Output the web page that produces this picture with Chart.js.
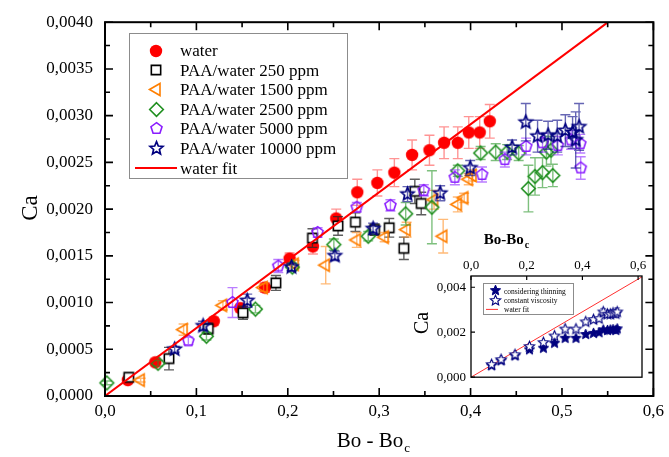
<!DOCTYPE html>
<html>
<head>
<meta charset="utf-8">
<script src="https://cdn.jsdelivr.net/npm/chart.js@4.4.1/dist/chart.umd.min.js"></script>
<style>
body { margin: 0; background: #fff; }
#wrap { position: relative; width: 669px; height: 457px; }
#main { position: absolute; left: 0; top: 0; }
#inset { position: absolute; left: 400px; top: 225px; }
</style>
</head>
<body>
<div id="wrap">
<canvas id="main" width="669" height="457"></canvas>
<canvas id="inset" width="265" height="165"></canvas>
</div>
<script>
const SERIF = '"Liberation Serif", "Times New Roman", serif';

// ---- main plot: axes ----
const xTicks = [0, 0.1, 0.2, 0.3, 0.4, 0.5, 0.6];
const xTickLabels = ['0,0', '0,1', '0,2', '0,3', '0,4', '0,5', '0,6'];
const yTicks = [0, 0.0005, 0.001, 0.0015, 0.002, 0.0025, 0.003, 0.0035, 0.004];
const yTickLabels = ['0,0000', '0,0005', '0,0010', '0,0015', '0,0020', '0,0025', '0,0030', '0,0035', '0,0040'];

// ---- main plot: series ----
const waterX   = [0.025, 0.055, 0.119, 0.148, 0.175, 0.202, 0.2275, 0.253, 0.276, 0.298, 0.3166, 0.336, 0.355, 0.371, 0.386, 0.398, 0.41, 0.421];
const waterY   = [0.00017, 0.00036, 0.0008, 0.00094, 0.00116, 0.00147, 0.0016, 0.0019, 0.00218, 0.00228, 0.00239, 0.00258, 0.00263, 0.00271, 0.00271, 0.00282, 0.00282, 0.00294];
const waterErr = [0.00003, 0.00003, 0.00004, 0.00004, 0.00005, 0.00006, 0.00008, 0.0001, 0.00014, 0.00014, 0.00015, 0.00016, 0.00016, 0.00017, 0.00017, 0.00017, 0.00017, 0.00018];

const p250X   = [0.026, 0.07, 0.113, 0.151, 0.187, 0.227, 0.255, 0.274, 0.295, 0.311, 0.327, 0.339, 0.346];
const p250Y   = [0.0002, 0.0004, 0.00072, 0.00089, 0.00121, 0.00169, 0.00182, 0.00186, 0.00178, 0.0018, 0.00158, 0.00219, 0.00206];
const p250Err = [0.00003, 0.00012, 0.00006, 0.00007, 0.00008, 0.0001, 0.0001, 0.0001, 0.00006, 0.0001, 0.00012, 0.00013, 0.00012];

const p1500X   = [0.039, 0.086, 0.129, 0.1735, 0.2075, 0.2415, 0.2755, 0.306, 0.33, 0.36, 0.37, 0.386, 0.393, 0.398, 0.402];
const p1500Y   = [0.00017, 0.00071, 0.00097, 0.00116, 0.00141, 0.0014, 0.00167, 0.0017, 0.00178, 0.0021, 0.00171, 0.00205, 0.00212, 0.00232, 0.00236];
const p1500Err = [0.00002, 0.00006, 0.00005, 0.00004, 0.00004, 0.0002, 0.00008, 0.00005, 0.00008, 0.0001, 0.00018, 0.00008, 0.00005, 0.00006, 0.00006];

const p2500X   = [0.002, 0.058, 0.111, 0.1646, 0.205, 0.2504, 0.288, 0.329, 0.3577, 0.386, 0.411, 0.4275, 0.44, 0.4526, 0.4633, 0.4705, 0.4787, 0.483, 0.488, 0.49];
const p2500Y   = [0.00014, 0.00035, 0.00064, 0.00093, 0.00138, 0.00162, 0.00171, 0.00195, 0.00202, 0.00241, 0.0026, 0.00261, 0.00261, 0.0026, 0.00222, 0.00235, 0.00239, 0.00261, 0.00263, 0.00236];
const p2500Err = [0.00002, 0.00003, 0.00004, 0.00004, 0.00004, 0.00006, 0.00005, 0.00012, 0.00039, 0.00006, 0.00007, 0.00009, 0.00008, 0.00008, 0.00025, 0.0002, 0.00016, 0.00015, 0.00015, 0.00012];

const p5000X   = [0.0912, 0.1395, 0.1896, 0.2326, 0.2755, 0.3123, 0.3488, 0.3828, 0.4125, 0.4375, 0.4608, 0.4787, 0.4955, 0.51, 0.52, 0.5205];
const p5000Y   = [0.00059, 0.001, 0.00139, 0.00175, 0.00202, 0.00204, 0.0022, 0.00234, 0.00237, 0.00253, 0.00267, 0.00271, 0.00268, 0.00274, 0.0027, 0.00244];
const p5000Err = [0.00004, 0.00016, 0.00007, 0.00005, 0.00005, 0.00006, 0.00006, 0.00008, 0.00008, 0.00008, 0.00009, 0.0001, 0.0001, 0.0001, 0.0001, 0.00012];

const p10000X   = [0.0762, 0.1073, 0.1556, 0.204, 0.2515, 0.2933, 0.331, 0.3667, 0.3996, 0.4454, 0.4604, 0.4733, 0.4848, 0.4948, 0.5037, 0.5116, 0.515, 0.5187];
const p10000Y   = [0.0005, 0.00075, 0.00102, 0.00138, 0.0015, 0.00179, 0.00216, 0.00217, 0.00244, 0.00266, 0.00293, 0.00278, 0.00279, 0.00278, 0.00284, 0.00282, 0.00274, 0.00288];
const p10000Err = [0.00003, 0.00005, 0.00007, 0.00004, 0.00005, 0.00006, 0.00008, 0.00008, 0.00008, 0.00008, 0.0002, 0.00017, 0.00015, 0.00017, 0.00017, 0.00017, 0.0003, 0.00025];

// linear fit of the water data, Ca = k (Bo - Boc)
const fitSlope = 0.00727;
const fitX = [0, 0.55];

// ---- inset: 10000 ppm with and without shear thinning ----
const insetXTicks = [0, 0.2, 0.4, 0.6];
const insetXLabels = ['0,0', '0,2', '0,4', '0,6'];
const insetYTicks = [0, 0.002, 0.004];
const insetYLabels = ['0,000', '0,002', '0,004'];

const thinX   = [0.074, 0.108, 0.158, 0.21, 0.26, 0.30, 0.338, 0.377, 0.412, 0.44, 0.46, 0.475, 0.49, 0.50, 0.51, 0.52, 0.525];
const thinY   = [0.00051, 0.00073, 0.00095, 0.00122, 0.00129, 0.00151, 0.00173, 0.00173, 0.0019, 0.00195, 0.00198, 0.0021, 0.00208, 0.0021, 0.00212, 0.00208, 0.00215];
const thinErr = [0.00002, 0.00003, 0.00004, 0.00004, 0.00004, 0.00005, 0.00005, 0.00005, 0.00006, 0.00006, 0.00006, 0.00008, 0.00008, 0.00008, 0.00008, 0.0001, 0.0001];
const constY   = [0.00056, 0.00078, 0.001, 0.00136, 0.00154, 0.00183, 0.00214, 0.00214, 0.00246, 0.00256, 0.0026, 0.0029, 0.0028, 0.0028, 0.00285, 0.00282, 0.0029];
const constErr = [0.00002, 0.00003, 0.00004, 0.00005, 0.00005, 0.00006, 0.00007, 0.00007, 0.00008, 0.00008, 0.00008, 0.00016, 0.00014, 0.00014, 0.00015, 0.00015, 0.00018];
const insetFitX = [0, 0.614];

const pts = (xs, ys) => xs.map((x, i) => ({ x, y: ys[i] }));

// marker sprites (Chart.js has no pentagon or five-point star)
function marker(shape, r, stroke, fill, lw) {
  const s = Math.ceil(2 * r + lw + 3);
  const c = document.createElement('canvas');
  c.width = c.height = s;
  const g = c.getContext('2d');
  const m = s / 2;
  g.beginPath();
  if (shape === 'circle') {
    g.arc(m, m, r, 0, Math.PI * 2);
  } else {
    let n, a0, inner = 0;
    if (shape === 'square') { n = 4; a0 = Math.PI / 4; }
    if (shape === 'left') { n = 3; a0 = -Math.PI / 2; }
    if (shape === 'diamond') { n = 4; a0 = 0; }
    if (shape === 'pentagon') { n = 5; a0 = 0; }
    if (shape === 'star') { n = 5; a0 = 0; inner = 0.45; }
    const k = inner ? 2 * n : n;
    for (let i = 0; i < k; i++) {
      const a = a0 + i * Math.PI * 2 / k;
      const rr = inner && i % 2 ? r * inner : r;
      g.lineTo(m + Math.sin(a) * rr, m - Math.cos(a) * rr);
    }
    g.closePath();
  }
  if (fill) { g.fillStyle = fill; g.fill(); }
  if (stroke) { g.lineJoin = 'miter'; g.strokeStyle = stroke; g.lineWidth = lw; g.stroke(); }
  return c;
}

const RED = '#ff0000', ORANGE = '#ff7f00', GREEN = '#1f8f1f', PURPLE = '#8a1cff', NAVY = '#00007f';

const errorBars = {
  id: 'errorBars',
  beforeDatasetDraw(chart, args) {
    const ds = chart.data.datasets[args.index];
    if (!ds.yErr) return;
    const sx = chart.scales.x, sy = chart.scales.y, ctx = chart.ctx;
    const cap = ds.capHalf || 5;
    ctx.save();
    ctx.strokeStyle = ds.errColor;
    ctx.lineWidth = ds.errWidth || 1.4;
    ctx.beginPath();
    ds.data.forEach((p, i) => {
      const e = ds.yErr[i];
      if (!e) return;
      const px = sx.getPixelForValue(p.x);
      const t = sy.getPixelForValue(p.y + e), b = sy.getPixelForValue(p.y - e);
      ctx.moveTo(px, t); ctx.lineTo(px, b);
      ctx.moveTo(px - cap, t); ctx.lineTo(px + cap, t);
      ctx.moveTo(px - cap, b); ctx.lineTo(px + cap, b);
    });
    ctx.stroke();
    ctx.restore();
  }
};

// box frame with inward ticks
const frame = {
  id: 'frame',
  afterDatasetsDraw(chart, args, o) {
    const { ctx, chartArea: a } = chart;
    const sx = chart.scales.x, sy = chart.scales.y;
    ctx.save();
    ctx.strokeStyle = '#000';
    ctx.lineWidth = o.tickWidth;
    ctx.beginPath();
    const marks = (ticks) => {
      const out = [];
      ticks.forEach((v, i) => {
        out.push([v, o.major]);
        if (o.minor && i < ticks.length - 1) out.push([(v + ticks[i + 1]) / 2, o.minor]);
      });
      return out;
    };
    marks(o.xTicks).forEach(([v, len]) => {
      const p = sx.getPixelForValue(v);
      if (o.sides.includes('b')) { ctx.moveTo(p, a.bottom); ctx.lineTo(p, a.bottom - len); }
      if (o.sides.includes('t')) { ctx.moveTo(p, a.top); ctx.lineTo(p, a.top + len); }
    });
    marks(o.yTicks).forEach(([v, len]) => {
      const p = sy.getPixelForValue(v);
      if (o.sides.includes('l')) { ctx.moveTo(a.left, p); ctx.lineTo(a.left + len, p); }
      if (o.sides.includes('r')) { ctx.moveTo(a.right, p); ctx.lineTo(a.right - len, p); }
    });
    ctx.stroke();
    ctx.lineWidth = o.width;
    ctx.strokeRect(a.left, a.top, a.right - a.left, a.bottom - a.top);
    ctx.restore();
  }
};

// legend drawn inside the plot area
const boxLegend = {
  id: 'boxLegend',
  afterDraw(chart, args, o) {
    const ctx = chart.ctx;
    ctx.save();
    ctx.fillStyle = '#fff';
    ctx.fillRect(o.box[0], o.box[1], o.box[2], o.box[3]);
    ctx.strokeStyle = '#8c8c8c';
    ctx.lineWidth = 1;
    ctx.strokeRect(o.box[0] + 0.5, o.box[1] + 0.5, o.box[2], o.box[3]);
    ctx.font = o.size + 'px ' + SERIF;
    ctx.textBaseline = 'middle';
    ctx.fillStyle = '#000';
    o.order.forEach((di, row) => {
      const ds = chart.data.datasets[di];
      const y = o.y0 + row * o.step;
      if (ds.showLine) {
        ctx.strokeStyle = ds.borderColor;
        ctx.lineWidth = ds.borderWidth;
        ctx.beginPath();
        ctx.moveTo(o.lineFrom, y); ctx.lineTo(o.lineTo, y);
        ctx.stroke();
      } else {
        const img = ds.pointStyle;
        ctx.drawImage(img, Math.round(o.mx - img.width / 2), Math.round(y - img.height / 2));
      }
      ctx.fillStyle = '#000';
      ctx.fillText(ds.label, o.tx, y + 1);
    });
    ctx.restore();
  }
};

// axis titles (x title carries a subscript)
const axisTitles = {
  id: 'axisTitles',
  afterDraw(chart, args, o) {
    const ctx = chart.ctx;
    ctx.save();
    ctx.fillStyle = '#000';
    ctx.textBaseline = 'alphabetic';
    const t = o.x;
    const w = t.weight ? t.weight + ' ' : '';
    ctx.font = w + t.size + 'px ' + SERIF;
    const w1 = ctx.measureText(t.text).width;
    ctx.font = w + t.subSize + 'px ' + SERIF;
    const w2 = ctx.measureText(t.sub).width;
    const x0 = t.cx - (w1 + w2) / 2;
    ctx.font = w + t.size + 'px ' + SERIF;
    ctx.textAlign = 'left';
    ctx.fillText(t.text, x0, t.y);
    ctx.font = w + t.subSize + 'px ' + SERIF;
    ctx.fillText(t.sub, x0 + w1 + 1, t.y + t.subDrop);
    const v = o.y;
    ctx.translate(v.cx, v.cy);
    ctx.rotate(-Math.PI / 2);
    ctx.font = v.size + 'px ' + SERIF;
    ctx.textAlign = 'center';
    ctx.textBaseline = 'middle';
    ctx.fillText(v.text, 0, 0);
    ctx.restore();
  }
};

const scatterBase = { showLine: false, pointRadius: 6, clip: false };

new Chart(document.getElementById('main'), {
  type: 'scatter',
  data: {
    datasets: [
      { ...scatterBase, label: 'water', data: pts(waterX, waterY), yErr: waterErr,
        errColor: 'rgba(255,60,60,0.55)', pointStyle: marker('circle', 6.2, null, RED, 0), order: 6 },
      { ...scatterBase, label: 'PAA/water 250 ppm', data: pts(p250X, p250Y), yErr: p250Err,
        errColor: 'rgba(40,40,40,0.75)', pointStyle: marker('square', 6.6, '#000', '#fff', 1.6), order: 5 },
      { ...scatterBase, label: 'PAA/water 1500 ppm', data: pts(p1500X, p1500Y), yErr: p1500Err,
        errColor: 'rgba(255,140,30,0.6)', pointStyle: marker('left', 7, ORANGE, null, 1.6), order: 4 },
      { ...scatterBase, label: 'PAA/water 2500 ppm', data: pts(p2500X, p2500Y), yErr: p2500Err,
        errColor: 'rgba(40,150,40,0.6)', pointStyle: marker('diamond', 6.8, GREEN, null, 1.6), order: 3 },
      { ...scatterBase, label: 'PAA/water 5000 ppm', data: pts(p5000X, p5000Y), yErr: p5000Err,
        errColor: 'rgba(140,40,255,0.6)', pointStyle: marker('pentagon', 5.8, PURPLE, null, 1.6), order: 2 },
      { ...scatterBase, label: 'PAA/water 10000 ppm', data: pts(p10000X, p10000Y), yErr: p10000Err,
        errColor: 'rgba(20,20,140,0.65)', pointStyle: marker('star', 6.8, NAVY, null, 1.7), order: 1 },
      { label: 'water fit', type: 'line', data: fitX.map(x => ({ x, y: fitSlope * x })),
        showLine: true, borderColor: RED, borderWidth: 2, pointRadius: 0, order: 0 }
    ]
  },
  options: {
    responsive: false,
    animation: false,
    devicePixelRatio: 1,
    layout: { padding: { top: 17, right: 5, left: 0, bottom: 0 } },
    plugins: {
      legend: { display: false },
      tooltip: { enabled: false },
      frame: { xTicks, yTicks, major: 8, minor: 5, sides: 'tblr', width: 2, tickWidth: 1.6 },
      boxLegend: { box: [129, 33, 218, 145], order: [0, 1, 2, 3, 4, 5, 6], y0: 50.5, step: 19.6,
                   mx: 156, tx: 180, lineFrom: 135, lineTo: 177, size: 17 },
      axisTitles: {
        x: { text: 'Bo - Bo', sub: 'c', cx: 373, y: 447, size: 21, subSize: 13, subDrop: 5 },
        y: { text: 'Ca', cx: 31, cy: 208, size: 23 }
      }
    },
    scales: {
      x: {
        type: 'linear', min: 0, max: 0.6,
        afterBuildTicks: s => { s.ticks = xTicks.map(v => ({ value: v })); },
        afterFit: s => { s.height = 61; },
        grid: { display: false, drawTicks: false },
        border: { display: false },
        ticks: { color: '#000', font: { family: SERIF, size: 17 }, padding: 5, maxRotation: 0, autoSkip: false,
                 callback: (v, i) => xTickLabels[i] }
      },
      y: {
        type: 'linear', min: 0, max: 0.004,
        afterBuildTicks: s => { s.ticks = yTicks.map(v => ({ value: v })); },
        afterFit: s => { s.width = 105; },
        grid: { display: false, drawTicks: false },
        border: { display: false },
        ticks: { color: '#000', font: { family: SERIF, size: 17 }, padding: 12, autoSkip: false,
                 callback: (v, i) => yTickLabels[i] }
      }
    }
  },
  plugins: [errorBars, frame, boxLegend, axisTitles]
});

new Chart(document.getElementById('inset'), {
  type: 'scatter',
  data: {
    datasets: [
      { ...scatterBase, pointRadius: 4, label: 'considering thinning', data: pts(thinX, thinY), yErr: thinErr,
        errColor: 'rgba(20,20,140,0.7)', capHalf: 3, errWidth: 1, pointStyle: marker('star', 5.4, NAVY, NAVY, 1), order: 2 },
      { ...scatterBase, pointRadius: 4, label: 'constant viscosity', data: pts(thinX, constY), yErr: constErr,
        errColor: 'rgba(20,20,140,0.6)', capHalf: 3, errWidth: 1, pointStyle: marker('star', 5.4, NAVY, '#fff', 1.1), order: 1 },
      { label: 'water fit', type: 'line', data: insetFitX.map(x => ({ x, y: fitSlope * x })),
        showLine: true, borderColor: '#ff3030', borderWidth: 1, pointRadius: 0, order: 3 }
    ]
  },
  options: {
    responsive: false,
    animation: false,
    devicePixelRatio: 1,
    layout: { padding: { top: 0, right: 23, left: 0, bottom: 12 } },
    plugins: {
      legend: { display: false },
      tooltip: { enabled: false },
      frame: { xTicks: insetXTicks, yTicks: insetYTicks, major: 4, minor: 0, sides: 'tl', width: 1.3, tickWidth: 1.2 },
      boxLegend: { box: [83, 58, 90, 31], order: [0, 1, 2], y0: 65.8, step: 9.3,
                   mx: 95, tx: 104, lineFrom: 86, lineTo: 98, size: 7.5 },
      axisTitles: {
        x: { text: 'Bo-Bo', sub: 'c', cx: 106, y: 19, size: 15, subSize: 10, subDrop: 4, weight: 'bold' },
        y: { text: 'Ca', cx: 23, cy: 98, size: 20 }
      }
    },
    scales: {
      x: {
        type: 'linear', position: 'top', min: 0, max: 0.614,
        afterBuildTicks: s => { s.ticks = insetXTicks.map(v => ({ value: v })); },
        afterFit: s => { s.height = 51; },
        grid: { display: false, drawTicks: false },
        border: { display: false },
        ticks: { color: '#000', font: { family: SERIF, size: 13 }, padding: 3, maxRotation: 0, autoSkip: false,
                 callback: (v, i) => insetXLabels[i] }
      },
      y: {
        type: 'linear', min: 0, max: 0.0045,
        afterBuildTicks: s => { s.ticks = insetYTicks.map(v => ({ value: v })); },
        afterFit: s => { s.width = 71; },
        grid: { display: false, drawTicks: false },
        border: { display: false },
        ticks: { color: '#000', font: { family: SERIF, size: 13 }, padding: 5, autoSkip: false,
                 callback: (v, i) => insetYLabels[i] }
      }
    }
  },
  plugins: [errorBars, frame, boxLegend, axisTitles]
});
</script>
</body>
</html>
